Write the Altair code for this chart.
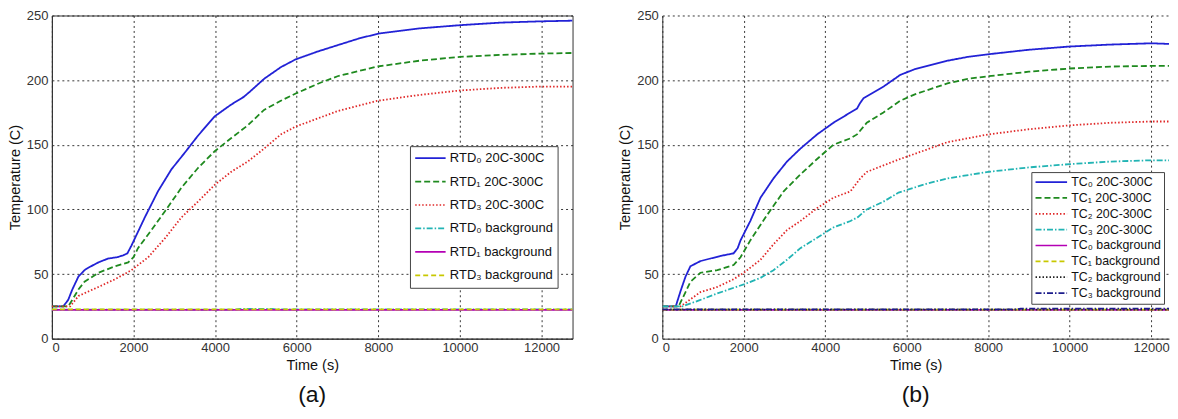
import altair as alt
import pandas as pd

FONT = "Liberation Sans"

# ---------------- Panel (a): RTD sensors ----------------
rtd0_t = [0, 280, 400, 500, 650, 800, 900, 1140, 1380, 1600, 1750, 1850, 1950, 2100, 2280, 2600, 2930, 3260, 3580, 3990, 4390, 4700, 4850, 5200, 5610, 5970, 6500, 7000, 7500, 8000, 9000, 10000, 11000, 12000, 12760]
rtd0_T = [25, 25, 30, 38, 48, 53, 55, 59, 62, 63, 64.5, 66, 72, 82, 94, 114, 131, 144, 157, 172, 181, 187, 191, 201, 210, 216, 222, 227, 232, 236, 240, 242.5, 244.5, 245.5, 246]

rtd1_t = [0, 400, 500, 650, 800, 1140, 1550, 1870, 2000, 2110, 2440, 2780, 3180, 3580, 3990, 4390, 4800, 5200, 5610, 6000, 6580, 7000, 7970, 9000, 10000, 11000, 11950, 12760]
rtd1_T = [25, 25, 30, 38, 44, 51, 56, 59, 63, 70, 84, 99, 117, 132, 145, 155, 165, 177, 184, 190, 198, 203, 210.5, 215, 218, 219.5, 220.5, 221]

rtd3_t = [0, 450, 650, 1140, 1550, 1950, 2360, 2780, 3180, 3580, 3990, 4390, 4800, 5200, 5610, 5970, 7000, 7970, 9000, 10000, 11000, 11950, 12760]
rtd3_T = [25, 25, 33, 40, 46, 53, 63, 78, 94, 106, 119, 129, 137, 147, 158, 164, 176, 184, 188.5, 192, 194, 195, 195]

rtd0_bg_t = [0, 4500, 4600, 5400, 5500, 12760]
rtd0_bg_T = [22.5, 22.5, 23.0, 23.0, 22.6, 22.6]
rtd1_bg_t = [0, 12760]
rtd1_bg_T = [22.2, 22.2]
rtd3_bg_t = [0, 12760]
rtd3_bg_T = [22.7, 22.7]

names_a = ["RTD₀ 20C-300C", "RTD₁ 20C-300C", "RTD₃ 20C-300C",
           "RTD₀ background", "RTD₁ background", "RTD₃ background"]
series_a = [(rtd0_t, rtd0_T), (rtd1_t, rtd1_T), (rtd3_t, rtd3_T),
            (rtd0_bg_t, rtd0_bg_T), (rtd1_bg_t, rtd1_bg_T), (rtd3_bg_t, rtd3_bg_T)]
colors_a = ["#2222d6", "#1f8a1f", "#e02828", "#22b4b4", "#b400b4", "#c8c800"]
dashes_a = [[1, 0], [6, 3], [1.5, 2], [6, 2, 1.5, 2], [1, 0], [5, 3]]

# ---------------- Panel (b): thermocouples ----------------
tc0_t = [0, 330, 450, 570, 690, 935, 1180, 1430, 1750, 1850, 1920, 2160, 2410, 2730, 3060, 3390, 3800, 4200, 4620, 4780, 4850, 4940, 5430, 5840, 6200, 7000, 7500, 8000, 9000, 10000, 11000, 12010, 12440]
tc0_T = [25, 25, 37, 48, 56, 60, 62, 64, 66, 70, 76, 91, 109, 124, 137, 147, 158, 167, 175, 178, 182, 186, 195, 204, 208.5, 215, 218, 220, 223.5, 226, 227.5, 228.5, 228]

tc1_t = [0, 400, 570, 690, 935, 1350, 1750, 1920, 2160, 2580, 2980, 3390, 3800, 4200, 4620, 4780, 5020, 5430, 5840, 6200, 7000, 7500, 8000, 9000, 10000, 11000, 12010, 12440]
tc1_T = [25, 25, 36, 44, 51, 53, 57, 63, 76, 96, 114, 127, 139, 150, 155, 158, 167, 175, 184, 189, 197.5, 201, 203, 206.5, 209, 210.5, 211, 211]

tc2_t = [0, 450, 935, 1350, 1750, 2000, 2410, 2730, 3060, 3390, 3800, 4200, 4620, 4860, 5020, 5430, 5840, 6200, 7000, 8000, 9000, 10000, 11000, 12010, 12440]
tc2_T = [25, 25, 36, 40, 46, 51, 61, 73, 84, 91, 101, 109, 114, 124, 129, 134, 139, 143, 152, 158, 162, 165, 167, 168, 168]

tc3_t = [0, 500, 935, 1350, 2000, 2410, 2730, 3060, 3390, 3800, 4200, 4620, 4800, 5020, 5430, 5800, 6500, 7000, 8000, 9000, 10000, 11000, 12010, 12440]
tc3_T = [25, 25, 30, 35, 42, 47, 53, 61, 70, 78, 86, 91, 94, 100, 106, 113, 120, 124, 129, 132.5, 135, 137, 138, 138]

tc0_bg_t = [0, 12440]
tc0_bg_T = [22.2, 22.2]
tc1_bg_t = [0, 12440]
tc1_bg_T = [22.5, 22.5]
tc2_bg_t = [0, 12440]
tc2_bg_T = [22.5, 22.5]
tc3_bg_t = [0, 8700, 8800, 12440]
tc3_bg_T = [22.6, 22.6, 23.3, 23.3]

names_b = ["TC₀ 20C-300C", "TC₁ 20C-300C", "TC₂ 20C-300C", "TC₃ 20C-300C",
           "TC₀ background", "TC₁ background", "TC₂ background", "TC₃ background"]
series_b = [(tc0_t, tc0_T), (tc1_t, tc1_T), (tc2_t, tc2_T), (tc3_t, tc3_T),
            (tc0_bg_t, tc0_bg_T), (tc1_bg_t, tc1_bg_T), (tc2_bg_t, tc2_bg_T), (tc3_bg_t, tc3_bg_T)]
colors_b = ["#2222d6", "#1f8a1f", "#e02828", "#22b4b4", "#b400b4", "#c8c800", "#222222", "#1c1c8c"]
dashes_b = [[1, 0], [6, 3], [1.5, 2], [6, 2, 1.5, 2], [1, 0], [5, 3], [1.5, 2], [6, 2, 1.5, 2]]

x_ticks = [0, 2000, 4000, 6000, 8000, 10000, 12000]
y_ticks = [0, 50, 100, 150, 200, 250]


def make_df(names, series):
    rows = []
    for i, (name, (ts, Ts)) in enumerate(zip(names, series)):
        for t, T in zip(ts, Ts):
            rows.append({"series": name, "t": t, "T": T, "k": i})
    return pd.DataFrame(rows)


def panel(names, series, colors, dashes, xmax, width, lx, ly, clip_h, row_pad, pad,
          font_size, sym_size, caption, stroke):
    df = make_df(names, series)
    leg = dict(orient="none", legendX=lx, legendY=ly, title=None,
               fillColor="white", strokeColor="#444444", padding=pad,
               symbolType="stroke", symbolSize=sym_size, symbolStrokeWidth=1.7,
               labelFont=FONT, labelFontSize=font_size, labelColor="#111111",
               clipHeight=clip_h, rowPadding=row_pad, labelLimit=300,
               cornerRadius=0, labelOffset=3)
    ch = alt.Chart(df).mark_line(strokeWidth=1.8, clip=True).encode(
        x=alt.X("t:Q", scale=alt.Scale(domain=[0, xmax], nice=False, zero=False),
                axis=alt.Axis(title="Time (s)", values=x_ticks, format="d")),
        y=alt.Y("T:Q", scale=alt.Scale(domain=[0, 250], nice=False),
                axis=alt.Axis(title="Temperature (C)", values=y_ticks)),
        color=alt.Color("series:N", scale=alt.Scale(domain=names, range=colors),
                        legend=alt.Legend(**leg)),
        strokeDash=alt.StrokeDash("series:N", scale=alt.Scale(domain=names, range=dashes),
                                  legend=alt.Legend(**leg)),
    ).properties(
        width=width, height=324,
        view=alt.ViewBackground(stroke=stroke, strokeWidth=1),
        title=alt.TitleParams(caption, orient="bottom", fontSize=23, font=FONT,
                              fontWeight="normal", color="#111111", offset=12, anchor="middle"),
    )
    return ch


left = panel(names_a, series_a, colors_a, dashes_a, 12760, 522, 359, 131, 16, 7.5, 4,
             13, 930, "(a)", "#333333")
right = panel(names_b, series_b, colors_b, dashes_b, 12440, 508, 370, 157, 14, 1.9, 3,
              12.4, 1000, "(b)", "transparent")

chart = alt.hconcat(left, right, spacing=43).resolve_scale(
    color="independent", strokeDash="independent", x="independent", y="independent"
).resolve_legend(color="independent", strokeDash="independent").properties(
    padding={"left": -2, "top": 0, "right": 0, "bottom": 0}
).configure_axis(
    labelFont=FONT, labelFontSize=13, labelColor="#333333",
    titleFont=FONT, titleFontSize=14.5, titleColor="#111111", titleFontWeight="normal",
    ticks=False, tickSize=0, labelPadding=4,
    domain=True, domainColor="#333333", domainWidth=1,
    grid=True, gridColor="#222222", gridDash=[2, 3], gridWidth=1, gridOpacity=0.9,
).configure_axisY(titlePadding=4).configure_axisX(titlePadding=4, labelPadding=3
).configure_view(stroke="#333333")

chart.save("out.html", embed_options={"renderer": "svg", "actions": False})
